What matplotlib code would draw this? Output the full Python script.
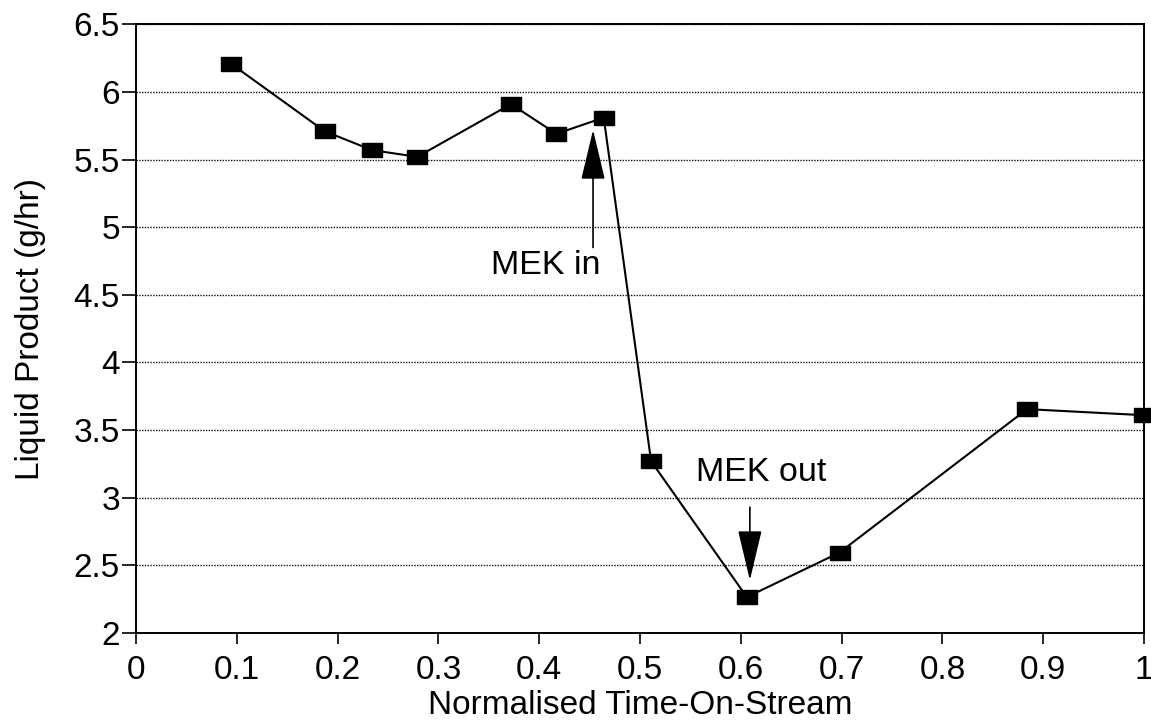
import matplotlib
matplotlib.use("Agg")
import matplotlib.pyplot as plt
from matplotlib.ticker import FuncFormatter

plt.rcParams['font.family'] = ['Liberation Sans', 'DejaVu Sans']

# Normalised time-on-stream and liquid product rate (g/hr)
time_on_stream = [0.094, 0.187, 0.234, 0.279, 0.372, 0.417, 0.464,
                  0.511, 0.606, 0.698, 0.884, 1.0]
liquid_product = [6.21, 5.71, 5.57, 5.52, 5.91, 5.69, 5.81,
                  3.27, 2.265, 2.595, 3.655, 3.61]

x_ticks = [0, 0.1, 0.2, 0.3, 0.4, 0.5, 0.6, 0.7, 0.8, 0.9, 1.0]
y_ticks = [2, 2.5, 3, 3.5, 4, 4.5, 5, 5.5, 6, 6.5]

fig = plt.figure(figsize=(11.51, 7.25), dpi=100)
ax = fig.add_axes([0.1182, 0.1269, 0.8757, 0.8396])

# flat rectangular marker
rect = [(-1, -0.72), (1, -0.72), (1, 0.72), (-1, 0.72), (-1, -0.72)]
ax.plot(time_on_stream, liquid_product, color='black', lw=1.5,
        marker=rect, markersize=13.7, markerfacecolor='black',
        markeredgecolor='black', clip_on=False, zorder=3)

ax.set_xlim(0, 1)
ax.set_ylim(2, 6.5)
ax.set_xticks(x_ticks)
ax.set_yticks(y_ticks)
ax.xaxis.set_major_formatter(FuncFormatter(lambda v, p: f"{v:g}"))
ax.yaxis.set_major_formatter(FuncFormatter(lambda v, p: f"{v:g}"))

ax.tick_params(axis='both', direction='out', labelsize=24, color='black',
               width=1.2)
ax.tick_params(axis='y', length=10, pad=1.5)
ax.tick_params(axis='x', length=8, pad=8)

for s in ax.spines.values():
    s.set_linewidth(1.4)
    s.set_color('black')

ax.grid(axis='y', linestyle=(0, (1, 1)), color='#111111', lw=1.0)
ax.set_axisbelow(True)

ax.set_xlabel('Normalised Time-On-Stream', fontsize=24, labelpad=3)
ax.set_ylabel('Liquid Product (g/hr)', fontsize=24, labelpad=20)

# event markers
ax.annotate('', xy=(0.4534, 5.72), xytext=(0.4534, 4.85),
            arrowprops=dict(arrowstyle='-|>,head_length=1.6,head_width=0.38',
                            mutation_scale=20, color='black', lw=1.2,
                            shrinkA=0, shrinkB=0))
ax.text(0.4067, 4.72, 'MEK in', fontsize=24.5, ha='center', va='center')

ax.annotate('', xy=(0.609, 2.39), xytext=(0.609, 2.93),
            arrowprops=dict(arrowstyle='-|>,head_length=1.6,head_width=0.38',
                            mutation_scale=20, color='black', lw=1.2,
                            shrinkA=0, shrinkB=0))
ax.text(0.620, 3.19, 'MEK out', fontsize=24.5, ha='center', va='center')

fig.savefig('out.png', dpi=100)
